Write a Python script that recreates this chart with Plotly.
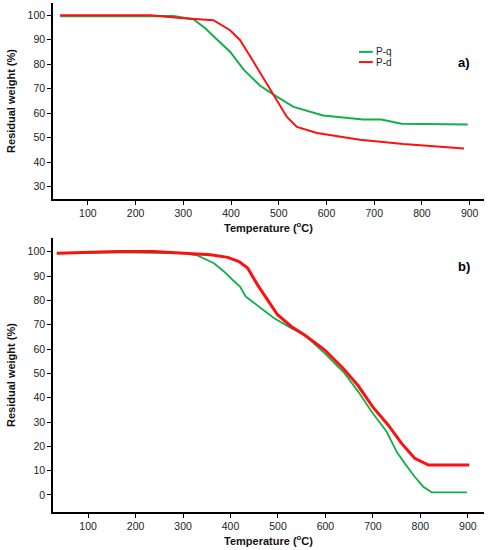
# TGA curves - residual weight vs temperature, two panels a) and b)
import plotly.graph_objects as go

# --- data -------------------------
# panel a)
temp_a_q = [42, 231, 279, 321, 346, 370, 398, 426, 461, 489, 531, 593, 677, 715, 757, 896]
wt_a_q = [99.6, 99.8, 99.7, 98.4, 94.7, 90.2, 85.1, 77.9, 71.2, 67.6, 62.6, 59.1, 57.4, 57.4, 55.7, 55.4]
temp_a_d = [42, 231, 300, 363, 398, 419, 440, 457, 489, 517, 538, 580, 670, 761, 888]
wt_a_d = [100, 100, 98.8, 98.0, 93.9, 89.8, 83.3, 77.9, 67.6, 58.5, 54.4, 51.9, 49.2, 47.4, 45.6]

# panel b)
temp_b_q = [34, 161, 302, 330, 365, 386, 404, 420, 432, 457, 492, 528, 556, 598, 640, 669,
            697, 729, 750, 767, 788, 806, 824, 898]
wt_b_q = [99.4, 99.8, 99.4, 98.5, 95.3, 91.9, 88.5, 85.7, 81.6, 77.9, 72.7, 68.6, 65.8, 58.3,
          50.1, 42.5, 34.3, 26.0, 17.8, 13.0, 7.5, 3.4, 1.1, 1.1]
temp_b_d = [34, 161, 238, 302, 358, 394, 418, 436, 457, 478, 499, 528, 556, 598, 637, 669,
            700, 732, 760, 788, 817, 903]
wt_b_d = [99.4, 100.1, 100.1, 99.5, 98.8, 97.7, 96.0, 93.3, 86.4, 80.2, 74.1, 69.3, 65.8, 59.7,
          52.1, 44.9, 36.1, 28.8, 21.3, 15.1, 12.3, 12.3]

series_names = ["P-q", "P-d"]
green = "#12B04A"
red = "#FF1010"

x_ticks = [100, 200, 300, 400, 500, 600, 700, 800, 900]
y_ticks_a = [30, 40, 50, 60, 70, 80, 90, 100]
y_ticks_b = [0, 10, 20, 30, 40, 50, 60, 70, 80, 90, 100]

# --- figure -----
fig = go.Figure()

fig.add_trace(go.Scatter(x=temp_a_q, y=wt_a_q, mode="lines", name=series_names[0],
                         line=dict(color=green, width=2), xaxis="x", yaxis="y"))
fig.add_trace(go.Scatter(x=temp_a_d, y=wt_a_d, mode="lines", name=series_names[1],
                         line=dict(color=red, width=2), xaxis="x", yaxis="y"))
fig.add_trace(go.Scatter(x=temp_b_q, y=wt_b_q, mode="lines", name=series_names[0],
                         line=dict(color=green, width=1.8), xaxis="x2", yaxis="y2"))
fig.add_trace(go.Scatter(x=temp_b_d, y=wt_b_d, mode="lines", name=series_names[1],
                         line=dict(color=red, width=3), xaxis="x2", yaxis="y2"))

tick_font = dict(family="Liberation Sans, Arial", size=10.5, color="#222222")
title_font = dict(family="Liberation Sans, Arial", size=11, color="#111111")

axis_style = dict(
    showline=True, linecolor="black", linewidth=1.5,
    ticks="outside", ticklen=4, tickwidth=1, tickcolor="black",
    showgrid=False, zeroline=False, tickfont=tick_font,
)

x_title = "<b>Temperature (<sup>o</sup>C)</b>"
y_title = "<b>Residual weight (%)</b>"

fig.update_layout(
    width=491, height=550,
    margin=dict(l=53, r=7, t=3, b=38),
    paper_bgcolor="white", plot_bgcolor="white",
    showlegend=False,
    xaxis=dict(domain=[0, 1], range=[27, 930], tickvals=x_ticks, anchor="y",
               title=dict(text=x_title, font=title_font, standoff=6), **axis_style),
    yaxis=dict(domain=[0.615, 1], range=[25, 105], tickvals=y_ticks_a, anchor="x",
               title=dict(text=y_title, font=title_font, standoff=10), **axis_style),
    xaxis2=dict(domain=[0, 1], range=[26, 934], tickvals=x_ticks, anchor="y2",
                title=dict(text=x_title, font=title_font, standoff=6), **axis_style),
    yaxis2=dict(domain=[0, 0.538], range=[-7, 105.6], tickvals=y_ticks_b, anchor="x2",
                title=dict(text=y_title, font=title_font, standoff=10), **axis_style),
)

# hand made legend in panel a)
for yy, col, name in [(0.904, green, series_names[0]), (0.884, red, series_names[1])]:
    fig.add_shape(type="line", xref="paper", yref="paper", x0=0.710, x1=0.742, y0=yy, y1=yy,
                  line=dict(color=col, width=2))
    fig.add_annotation(x=0.744, y=yy, xref="paper", yref="paper", text=name,
                       showarrow=False, xanchor="left", yanchor="middle",
                       font=dict(family="Liberation Sans, Arial", size=10, color="#222222"))

# panel labels
for yy, lab in [(0.884, "<b>a)</b>"), (0.483, "<b>b)</b>")]:
    fig.add_annotation(x=0.954, y=yy, xref="paper", yref="paper", text=lab, showarrow=False,
                       xanchor="center", yanchor="middle",
                       font=dict(family="Liberation Sans, Arial", size=13, color="black"))

# page body has a default 8px margin, drop it so the figure sits at the corner
fig.write_html("out.html", config={"displayModeBar": False},
               post_script="document.body.style.margin='0';")
